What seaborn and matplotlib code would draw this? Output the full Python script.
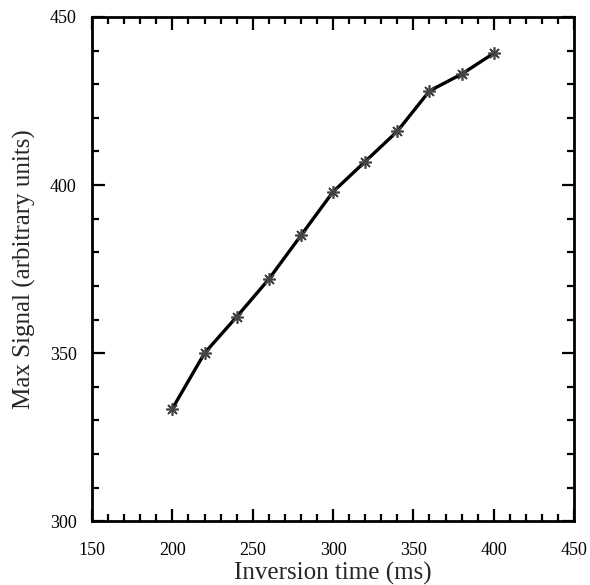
import numpy as np
import pandas as pd
import matplotlib
matplotlib.use("Agg")
import matplotlib.pyplot as plt
import seaborn as sns
from matplotlib.ticker import MultipleLocator

# ---------------- Data ----------------
inversion_time = [200, 220, 240, 260, 280, 300, 320, 340, 360, 380, 400]
max_signal = [333.5, 350, 360.8, 372, 385, 398, 407, 416, 428, 433, 439.2]

df = pd.DataFrame({"t": inversion_time, "signal": max_signal})

# ---------------- Style ----------------
sns.set_style("ticks")
plt.rcParams["font.family"] = ["Liberation Serif", "DejaVu Serif"]

fig = plt.figure(figsize=(5.9, 5.85), dpi=100)
ax = fig.add_axes([0.156, 0.109, 0.817, 0.862])

sns.lineplot(data=df, x="t", y="signal", ax=ax, color="black",
             linewidth=2.4, marker=(8, 2, 0), markersize=9,
             markeredgecolor="#444444", markeredgewidth=1.2)

ax.set_xlim(150, 450)
ax.set_ylim(300, 450)
ax.xaxis.set_major_locator(MultipleLocator(50))
ax.xaxis.set_minor_locator(MultipleLocator(10))
ax.yaxis.set_major_locator(MultipleLocator(50))
ax.yaxis.set_minor_locator(MultipleLocator(10))

ax.tick_params(which="both", direction="in", top=True, right=True,
               width=1.6, colors="black", labelsize=13)
ax.tick_params(which="major", length=9)
ax.tick_params(which="minor", length=5)
ax.tick_params(axis="x", pad=15)
ax.tick_params(axis="y", pad=11)

for sp in ax.spines.values():
    sp.set_linewidth(2)
    sp.set_color("black")

ax.set_xlabel("Inversion time (ms)", fontsize=18, labelpad=2)
ax.set_ylabel("Max Signal (arbitrary units)", fontsize=18, labelpad=10)

fig.savefig("out.png", dpi=100)
